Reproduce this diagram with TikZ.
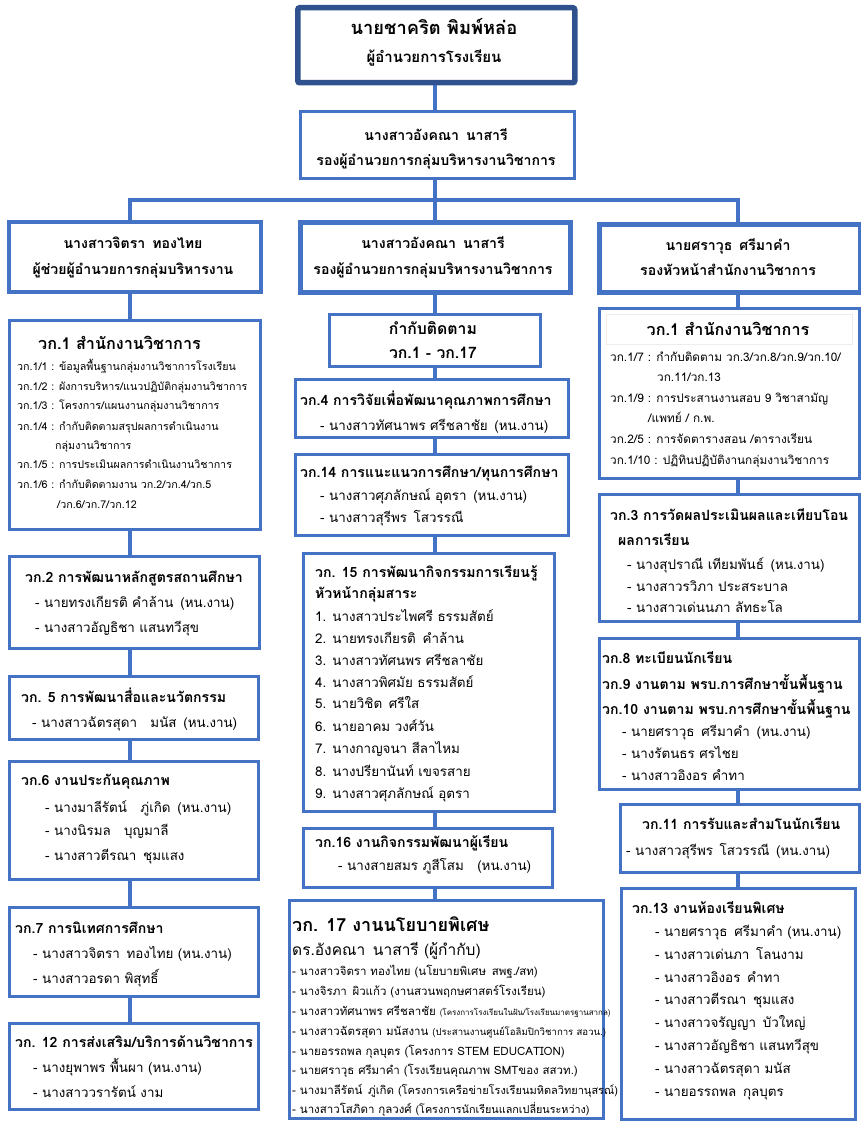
\documentclass[tikz,border=0pt]{standalone}
\usepackage{fontspec}
\setmainfont[Script=Thai]{Loma}
\definecolor{bl}{HTML}{4472C4}
\definecolor{dk}{HTML}{2F528F}
\newcommand\fs[1]{\fontsize{#1}{#1}\selectfont}
\tikzset{
  box/.style={draw=bl, line width=3pt, fill=white, anchor=north west, inner sep=0pt},
  hbox/.style={box, line width=4.5pt},
  conn/.style={draw=bl, line width=4pt},
  tl/.style={anchor=base west, inner sep=0pt},
  tc/.style={anchor=base, inner sep=0pt},
  hd/.style={tc, font=\bfseries\fs{14.1}},
  tt/.style={tl, font=\bfseries\fs{14.1}},
  tn/.style={tl, font=\fs{13.4}},
  ts/.style={tl, font=\fs{11.5}},
  tsl/.style={tl, font=\fs{10.7}},
  tsr/.style={tl, font=\fs{11.8}},
}
\begin{document}
\begin{tikzpicture}[x=1pt,y=-1pt]
\useasboundingbox (0,0) rectangle (861,1121);
\coordinate (Lx) at (130,0);
\coordinate (Mx) at (435,0);
\coordinate (Rx) at (738,0);
\coordinate (bar) at (435,200);
% ---------- boxes ----------
\node[box, draw=dk, line width=5.5pt, rounded corners=2pt, minimum width=277pt, minimum height=75pt] (top) at (295,5) {};
\node[box, minimum width=274pt, minimum height=67pt] (b2) at (299,110) {};
\node[hbox, line width=4pt, minimum width=252pt, minimum height=70pt] (hl) at (7,220) {};
\node[hbox, minimum width=270pt, minimum height=70pt] (hm) at (298,220) {};
\node[hbox, minimum width=261pt, minimum height=68pt] (hr) at (597,222) {};
% left
\node[box, minimum width=251pt, minimum height=209pt] (l1) at (8,319) {};
\node[box, minimum width=250pt, minimum height=92pt] (l2) at (8,555) {};
\node[box, minimum width=249pt, minimum height=63pt] (l5) at (8,675) {};
\node[box, minimum width=249pt, minimum height=118pt] (l6) at (8,760) {};
\node[box, minimum width=249pt, minimum height=89pt] (l7) at (8,906) {};
\node[box, minimum width=249pt, minimum height=86pt] (l12) at (8,1022) {};
% middle
\node[box, minimum width=211pt, minimum height=52pt] (mk) at (328,313) {};
\node[box, minimum width=273pt, minimum height=58pt] (m4) at (294,378) {};
\node[box, minimum width=273pt, minimum height=81pt] (m14) at (294,453) {};
\node[box, minimum width=251pt, minimum height=258pt] (m15) at (302,552) {};
\node[box, minimum width=249pt, minimum height=59pt] (m16) at (302,827) {};
\node[box, minimum width=314pt, minimum height=218pt] (m17) at (288,899) {};
% right
\node[box, minimum width=260pt, minimum height=170pt] (r1) at (598,307) {};
\node[box, draw=black!7, line width=0.8pt, minimum width=246pt, minimum height=30pt] (r1t) at (606,314) {};
\node[box, minimum width=260pt, minimum height=127pt] (r3) at (598,493) {};
\node[box, minimum width=260pt, minimum height=151pt] (r8) at (598,637) {};
\node[box, minimum width=239pt, minimum height=68pt] (r11) at (619,803) {};
\node[box, minimum width=234pt, minimum height=231pt] (r13) at (620,887) {};
% ---------- connectors ----------
\draw[conn] (top.south -| Mx) -- (b2.north -| Mx);
\draw[conn] (b2.south -| Mx) -- (bar);
\draw[conn] (hl.north -| Lx) -- (Lx |- bar) -- (Rx |- bar) -- (hr.north -| Rx);
\draw[conn] (bar) -- (hm.north -| Mx);
\draw[conn] (hl.south -| Lx) -- (l1.north -| Lx);
\draw[conn] (l1.south -| Lx) -- (l2.north -| Lx);
\draw[conn] (l2.south -| Lx) -- (l5.north -| Lx);
\draw[conn] (l5.south -| Lx) -- (l6.north -| Lx);
\draw[conn] (l6.south -| Lx) -- (l7.north -| Lx);
\draw[conn] (l7.south -| Lx) -- (l12.north -| Lx);
\draw[conn] (hm.south -| Mx) -- (mk.north -| Mx);
\draw[conn] (mk.south -| Mx) -- (m4.north -| Mx);
\draw[conn] (m4.south -| Mx) -- (m14.north -| Mx);
\draw[conn] (m14.south -| Mx) -- (m15.north -| Mx);
\draw[conn] (m15.south -| Mx) -- (m16.north -| Mx);
\draw[conn] (m16.south -| Mx) -- (m17.north -| Mx);
\draw[conn] (hr.south -| Rx) -- (r1.north -| Rx);
\draw[conn] (r1.south -| Rx) -- (r3.north -| Rx);
\draw[conn] (r3.south -| Rx) -- (r8.north -| Rx);
\draw[conn] (r8.south -| Rx) -- (r11.north -| Rx);
\draw[conn] (r11.south -| Rx) -- (r13.north -| Rx);
% ---------- texts ----------
\node[tc, font=\bfseries\fs{18.3}] (ta1) at (434,35) {นายชาคริต พิมพ์หล่อ};
\node[tc, font=\bfseries\fs{15}] (ta2) at (434,63) {ผู้อำนวยการโรงเรียน};
\node[hd] (tb1) at (436,140) {นางสาวอังคณา\enspace นาสารี};
\node[hd] (tb2) at (436,165) {รองผู้อำนวยการกลุ่มบริหารงานวิชาการ};
\node[hd] (thl1) at (133,248) {นางสาวจิตรา\enspace ทองไทย};
\node[hd] (thl2) at (133,274) {ผู้ช่วยผู้อำนวยการกลุ่มบริหารงาน};
\node[hd] (thm1) at (433,248) {นางสาวอังคณา\enspace นาสารี};
\node[hd] (thm2) at (433,274) {รองผู้อำนวยการกลุ่มบริหารงานวิชาการ};
\node[hd] (thr1) at (728,250) {นายศราวุธ\enspace ศรีมาคำ};
\node[hd] (thr2) at (728,275) {รองหัวหน้าสำนักงานวิชาการ};
% left l1
\node[tl, font=\bfseries\fs{16.2}] (tl1) at (38,349) {วก.1 สำนักงานวิชาการ};
\node[tsl] (tl1a) at (17,370) {วก.1/1 : ข้อมูลพื้นฐานกลุ่มงานวิชาการโรงเรียน};
\node[tsl] (tl1b) at (17,390) {วก.1/2 : ผังการบริหาร/แนวปฏิบัติกลุ่มงานวิชาการ};
\node[tsl] (tl1c) at (17,409) {วก.1/3 : โครงการ/แผนงานกลุ่มงานวิชาการ};
\node[tsl] (tl1d) at (17,430) {วก.1/4 : กำกับติดตามสรุปผลการดำเนินงาน};
\node[tsl] (tl1e) at (55,449) {กลุ่มงานวิชาการ};
\node[tsl] (tl1f) at (17,468) {วก.1/5 : การประเมินผลการดำเนินงานวิชาการ};
\node[tsl] (tl1g) at (17,488) {วก.1/6 : กำกับติดตามงาน วก.2/วก.4/วก.5};
\node[tsl] (tl1h) at (57,508) {/วก.6/วก.7/วก.12};
% l2
\node[tt] (tl2) at (25,582) {วก.2 การพัฒนาหลักสูตรสถานศึกษา};
\node[tn] (tl2a) at (35,607) {- นายทรงเกียรติ คำล้าน\enspace (หน.งาน)};
\node[tn] (tl2b) at (35,632) {- นางสาวอัญธิชา แสนทวีสุข};
% l5
\node[tt] (tl5) at (21,702) {วก. 5 การพัฒนาสื่อและนวัตกรรม};
\node[tn] (tl5a) at (32,727) {- นางสาวฉัตรสุดา\quad มนัส\enspace (หน.งาน)};
% l6
\node[tt] (tl6) at (21,785) {วก.6 งานประกันคุณภาพ};
\node[tn] (tl6a) at (45,812) {- นางมาลีรัตน์\quad ภู่เกิด\enspace (หน.งาน)};
\node[tn] (tl6b) at (45,835) {- นางนิรมล\quad บุญมาลี};
\node[tn] (tl6c) at (45,860) {- นางสาวตีรณา\enspace ชุมแสง};
% l7
\node[tt] (tl7) at (15,933) {วก.7 การนิเทศการศึกษา};
\node[tn] (tl7a) at (33,958) {- นางสาวจิตรา\enspace ทองไทย (หน.งาน)};
\node[tn] (tl7b) at (33,983) {- นางสาวอรดา พิสุทธิ์};
% l12
\node[tt] (tl12) at (15,1047) {วก. 12 การส่งเสริม/บริการด้านวิชาการ};
\node[tn] (tl12a) at (33,1072) {- นางยุพาพร พื้นผา (หน.งาน)};
\node[tn] (tl12b) at (33,1097) {- นางสาววรารัตน์ งาม};
% middle
\node[tc, font=\bfseries\fs{15.8}] (tmk1) at (433,334) {กำกับติดตาม};
\node[tc, font=\bfseries\fs{15.8}] (tmk2) at (433,358) {วก.1 - วก.17};
\node[tt] (tm4) at (300,405) {วก.4 การวิจัยเพื่อพัฒนาคุณภาพการศึกษา};
\node[tn] (tm4a) at (320,430) {- นางสาวทัศนาพร ศรีชลาชัย\enspace (หน.งาน)};
\node[tt] (tm14) at (300,477) {วก.14 การแนะแนวการศึกษา/ทุนการศึกษา};
\node[tn] (tm14a) at (320,500) {- นางสาวศุภลักษณ์ อุตรา\enspace (หน.งาน)};
\node[tn] (tm14b) at (320,522) {- นางสาวสุรีพร\enspace โสวรรณี};
\node[tt] (tm15) at (315,577) {วก. 15 การพัฒนากิจกรรมการเรียนรู้};
\node[tt] (tm15x) at (315,598) {หัวหน้ากลุ่มสาระ};
\node[tn] (tm15a) at (315,621) {1. นางสาวประไพศรี ธรรมสัตย์};
\node[tn] (tm15b) at (315,643) {2. นายทรงเกียรติ\enspace คำล้าน};
\node[tn] (tm15c) at (315,665) {3. นางสาวทัศนพร ศรีชลาชัย};
\node[tn] (tm15d) at (315,687) {4. นางสาวพิศมัย ธรรมสัตย์};
\node[tn] (tm15e) at (315,708) {5. นายวิชิต\enspace ศรีใส};
\node[tn] (tm15f) at (315,731) {6. นายอาคม วงศ์วัน};
\node[tn] (tm15g) at (315,753) {7. นางกาญจนา สีลาไหม};
\node[tn] (tm15h) at (315,776) {8. นางปรียานันท์ เขจรสาย};
\node[tn] (tm15i) at (315,798) {9. นางสาวศุภลักษณ์ อุตรา};
\node[tt] (tm16) at (315,847) {วก.16 งานกิจกรรมพัฒนาผู้เรียน};
\node[tn] (tm16a) at (338,870) {- นางสายสมร ภูสีโสม\quad (หน.งาน)};
\node[tl, font=\bfseries\fs{18}] (tm17) at (292,931) {วก. 17 งานนโยบายพิเศษ};
\node[tl, font=\fs{15.5}] (tm17x) at (292,955) {ดร.อังคณา\enspace นาสารี (ผู้กำกับ)};
\node[ts] (tm17a) at (292,975) {- นางสาวจิตรา ทองไทย (นโยบายพิเศษ\enspace สพฐ./สท)};
\node[ts] (tm17b) at (292,995) {- นางจิรภา\enspace ผิวแก้ว (งานสวนพฤกษศาสตร์โรงเรียน)};
\node[ts] (tm17c) at (292,1015) {- นางสาวทัศนาพร ศรีชลาชัย {\fs{8}(โครงการโรงเรียนในฝัน/โรงเรียนมาตรฐานสากล)}};
\node[ts] (tm17d) at (292,1035) {- นางสาวฉัตรสุดา มนัสงาน {\fs{9.6}(ประสานงานศูนย์โอลิมปิกวิชาการ สอวน.)}};
\node[ts] (tm17e) at (292,1055) {- นายอรรถพล กุลบุตร (โครงการ STEM EDUCATION)};
\node[ts] (tm17f) at (292,1074) {- นายศราวุธ ศรีมาคำ (โรงเรียนคุณภาพ SMTของ สสวท.)};
\node[ts] (tm17g) at (292,1094) {- นางมาลีรัตน์\enspace ภู่เกิด {\fs{11}(โครงการเครือข่ายโรงเรียนมหิดลวิทยานุสรณ์)}};
\node[ts] (tm17h) at (292,1113) {- นางสาวโสภิดา กุลวงศ์ {\fs{10.8}(โครงการนักเรียนแลกเปลี่ยนระหว่าง)}};
% right
\node[tc, font=\bfseries\fs{16.2}] (tr1) at (728,335) {วก.1 สำนักงานวิชาการ};
\node[tsr] (tr1a) at (610,361) {วก.1/7 : กำกับติดตาม วก.3/วก.8/วก.9/วก.10/};
\node[tsr] (tr1b) at (657,381) {วก.11/วก.13};
\node[tsr] (tr1c) at (610,402) {วก.1/9 : การประสานงานสอบ 9 วิชาสามัญ};
\node[tsr] (tr1d) at (648,422) {/แพทย์ / ก.พ.};
\node[tsr] (tr1e) at (610,443) {วก.2/5 : การจัดตารางสอน /ตารางเรียน};
\node[tsr] (tr1f) at (610,464) {วก.1/10 : ปฏิทินปฏิบัติงานกลุ่มงานวิชาการ};
\node[tt] (tr3) at (610,520) {วก.3 การวัดผลประเมินผลและเทียบโอน};
\node[tt] (tr3x) at (618,545) {ผลการเรียน};
\node[tn] (tr3a) at (627,569) {- นางสุปราณี เทียมพันธ์\enspace (หน.งาน)};
\node[tn] (tr3b) at (627,591) {- นางสาวรวิภา ประสระบาล};
\node[tn] (tr3c) at (627,612) {- นางสาวเด่นนภา ลัทธะโล};
\node[tt] (tr8) at (602,663) {วก.8 ทะเบียนนักเรียน};
\node[tt] (tr9) at (602,689) {วก.9 งานตาม พรบ.การศึกษาขั้นพื้นฐาน};
\node[tt] (tr10) at (602,714) {วก.10 งานตาม พรบ.การศึกษาขั้นพื้นฐาน};
\node[tn] (tr8a) at (622,736) {- นายศราวุธ\enspace ศรีมาคำ\enspace (หน.งาน)};
\node[tn] (tr8b) at (622,758) {- นางรัตนธร ศรไชย};
\node[tn] (tr8c) at (622,780) {- นางสาวอิงอร คำทา};
\node[tt] (tr11) at (642,829) {วก.11 การรับและสำมโนนักเรียน};
\node[tn] (tr11a) at (626,855) {- นางสาวสุรีพร\enspace โสวรรณี\enspace (หน.งาน)};
\node[tt] (tr13) at (632,913) {วก.13 งานห้องเรียนพิเศษ};
\node[tn] (tr13a) at (655,936) {- นายศราวุธ\enspace ศรีมาคำ (หน.งาน)};
\node[tn] (tr13b) at (655,959) {- นางสาวเด่นภา\enspace โลนงาม};
\node[tn] (tr13c) at (655,982) {- นางสาวอิงอร\enspace คำทา};
\node[tn] (tr13d) at (655,1004) {- นางสาวตีรณา\enspace ชุมแสง};
\node[tn] (tr13e) at (655,1027) {- นางสาวจรัญญา\enspace บัวใหญ่};
\node[tn] (tr13f) at (655,1050) {- นางสาวอัญธิชา แสนทวีสุข};
\node[tn] (tr13g) at (655,1073) {- นางสาวฉัตรสุดา มนัส};
\node[tn] (tr13h) at (655,1096) {- นายอรรถพล\enspace กุลบุตร};
\end{tikzpicture}
\end{document}
